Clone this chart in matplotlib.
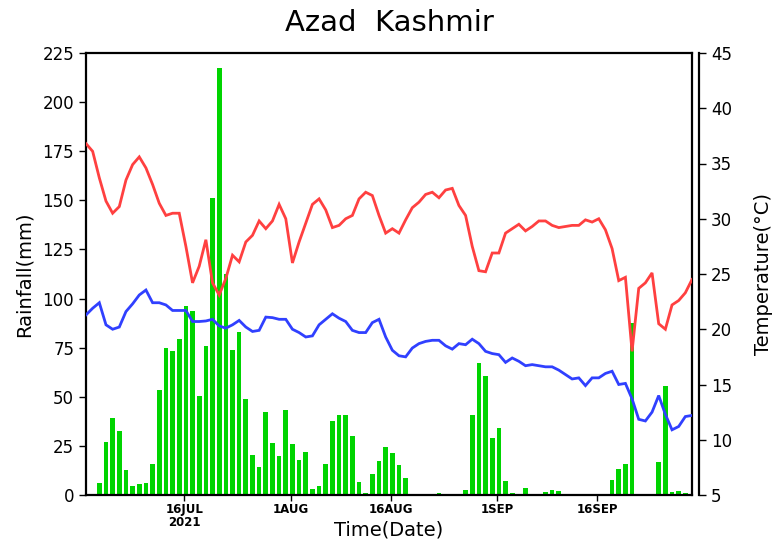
import matplotlib
matplotlib.use("Agg")
import matplotlib.pyplot as plt
import numpy as np
import pandas as pd

# ---------------- data ----------------
dates = pd.date_range("2021-07-01 06:00", "2021-09-30 06:00", freq="D")

rainfall = [0, 0, 6.0, 26.8, 39.0, 32.6, 12.6, 4.6, 5.4, 6.0,
            15.6, 53.3, 75.0, 73.3, 79.4, 96.4, 93.9, 50.4, 76.0, 151.2,
            217.2, 112.4, 73.7, 83.2, 49.0, 20.4, 14.3, 42.1, 26.5, 20.0,
            43.3, 26.0, 17.6, 21.9, 3.2, 4.8, 15.6, 37.8, 40.6, 40.6,
            30.0, 6.4, 0.8, 10.5, 17.3, 24.3, 21.4, 15.1, 8.5, 0.4,
            0.4, 0, 0, 1.0, 0, 0, 0, 2.7, 40.9, 67.4,
            60.7, 28.9, 34.1, 7.1, 1.0, 0, 3.4, 0.5, 0, 1.5,
            2.4, 2.0, 0, 0, 0, 0, 0, 0, 0.3, 7.5,
            13.2, 15.6, 87.4, 0, 0, 0, 17.0, 55.5, 1.7, 2.0,
            1.2, 0]

tmax = [36.8, 36.1, 33.7, 31.6, 30.5, 31.1, 33.5, 34.9, 35.6, 34.6,
        33.1, 31.4, 30.3, 30.5, 30.5, 27.5, 24.2, 25.7, 28.1, 24.2,
        23.1, 24.6, 26.7, 26.1, 27.9, 28.5, 29.8, 29.1, 29.8, 31.3,
        30.0, 26.0, 27.9, 29.6, 31.3, 31.8, 30.8, 29.2, 29.4, 30.0,
        30.3, 31.8, 32.4, 32.1, 30.3, 28.7, 29.1, 28.7, 29.9, 31.0,
        31.5, 32.2, 32.4, 31.9, 32.6, 32.75, 31.2, 30.3, 27.5, 25.3,
        25.2, 26.9, 26.9, 28.7, 29.1, 29.5, 28.9, 29.3, 29.8, 29.8,
        29.4, 29.2, 29.3, 29.4, 29.4, 29.9, 29.7, 30.0, 29.0, 27.3,
        24.4, 24.7, 18.0, 23.7, 24.2, 25.1, 20.5, 20.0, 22.2, 22.6,
        23.3, 24.5]

tmin = [21.3, 21.9, 22.4, 20.4, 20.0, 20.2, 21.6, 22.3, 23.1, 23.55,
        22.4, 22.4, 22.2, 21.7, 21.7, 21.7, 20.7, 20.7, 20.75, 20.9,
        20.3, 20.1, 20.4, 20.8, 20.2, 19.8, 19.9, 21.1, 21.05, 20.9,
        20.9, 20.0, 19.7, 19.3, 19.4, 20.4, 20.9, 21.4, 21.0, 20.7,
        19.9, 19.7, 19.7, 20.6, 20.9, 19.3, 18.1, 17.6, 17.5, 18.3,
        18.7, 18.9, 19.0, 19.0, 18.5, 18.2, 18.7, 18.6, 19.1, 18.7,
        18.0, 17.8, 17.7, 17.0, 17.4, 17.1, 16.7, 16.8, 16.7, 16.6,
        16.6, 16.3, 15.9, 15.5, 15.6, 14.9, 15.6, 15.6, 16.0, 16.2,
        15.0, 15.1, 13.7, 11.85, 11.7, 12.5, 14.0, 12.3, 10.9, 11.2,
        12.1, 12.2]

tick_dates = pd.to_datetime(["2021-07-16", "2021-08-01", "2021-08-16",
                             "2021-09-01", "2021-09-16"])
tick_labels = ["16JUL\n2021", "1AUG", "16AUG", "1SEP", "16SEP"]
rain_ticks = list(range(0, 226, 25))
temp_ticks = list(range(5, 46, 5))

# ---------------- figure ----------------
plt.rcParams['font.family'] = ['DejaVu Sans']
fig = plt.figure(figsize=(7.79, 5.43), dpi=100)
ax = fig.add_axes([86 / 779, 48 / 543, 606 / 779, 442 / 543])

ax.bar(dates, rainfall, width=0.7, color="#00d400", linewidth=0)
ax.set_ylim(0, 225)
ax.set_yticks(rain_ticks)
ax.set_xlim(dates[0], dates[-1])
ax.set_xticks(tick_dates)
ax.set_xticklabels(tick_labels, fontsize=8.5, fontweight="bold",
                   linespacing=0.95)
ax.tick_params(axis="y", labelsize=12, direction="out", length=5, width=1)
ax.tick_params(axis="x", direction="out", length=4, width=1, pad=2)
for s in ax.spines.values():
    s.set_linewidth(1.6)
ax.set_ylabel("Rainfall(mm)", fontsize=14, labelpad=6)
fig.text(389 / 779, 1 - 530 / 543, "Time(Date)", ha="center", va="center",
         fontsize=14)

ax2 = ax.twinx()
ax2.plot(dates, tmax, color="#ff4040", linewidth=2.0, solid_joinstyle="miter")
ax2.plot(dates, tmin, color="#3040ff", linewidth=2.0, solid_joinstyle="miter")
ax2.set_ylim(5, 45)
ax2.set_yticks(temp_ticks)
ax2.set_xlim(dates[0], dates[-1])
ax2.spines["right"].set_position(("outward", 5))
ax2.spines["right"].set_linewidth(1.6)
for k in ["left", "top", "bottom"]:
    ax2.spines[k].set_visible(False)
ax2.tick_params(axis="y", labelsize=12, direction="out", length=5, width=1)
ax2.set_ylabel("Temperature(\u00b0C)", fontsize=14, labelpad=16)

fig.text(0.5, 0.958, "Azad  Kashmir", ha="center", va="center",
         fontsize=21)

fig.savefig("out.png", dpi=100)
